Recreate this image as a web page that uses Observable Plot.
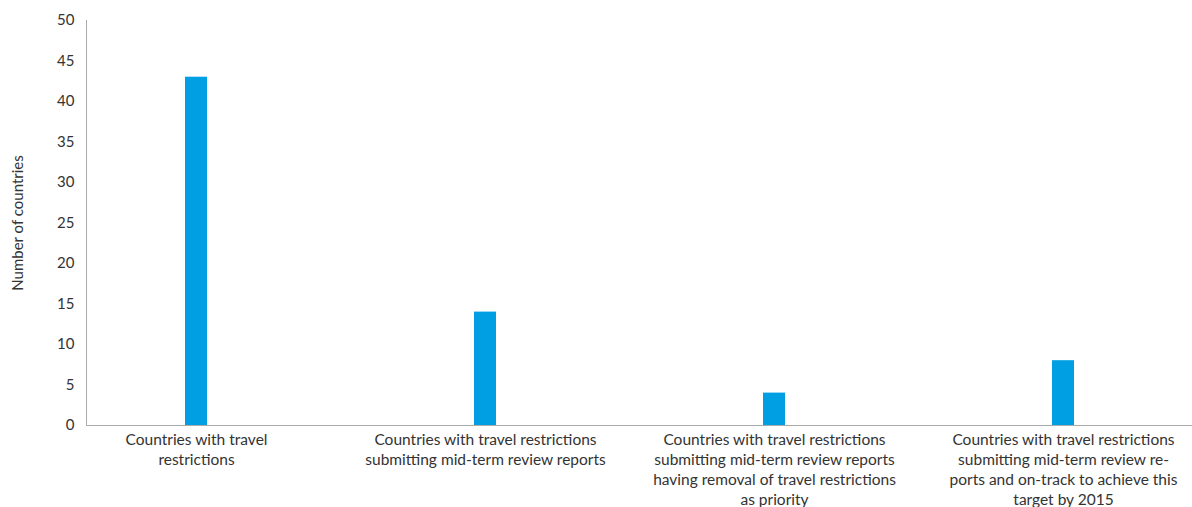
<!DOCTYPE html>
<html>
<head>
<meta charset="utf-8">
<script src="https://cdn.jsdelivr.net/npm/d3@7"></script>
<script src="https://cdn.jsdelivr.net/npm/@observablehq/plot@0.6"></script>
<style>
  html, body { margin: 0; padding: 0; background: #fff; }
  #chart svg { display: block; }
</style>
</head>
<body>
<div id="chart"></div>
<script>
const categories = [
  "Countries with travel\nrestrictions",
  "Countries with travel restrictions\nsubmitting mid-term review reports",
  "Countries with travel restrictions\nsubmitting mid-term review reports\nhaving removal of travel restrictions\nas priority",
  "Countries with travel restrictions\nsubmitting mid-term review re-\nports and on-track to achieve this\ntarget by 2015"
];
const values = [43, 14, 4, 8];
const yTicks = [0, 5, 10, 15, 20, 25, 30, 35, 40, 45, 50];

const data = categories.map((c, i) => ({category: c, value: values[i]}));

const chart = Plot.plot({
  width: 1192,
  height: 507,
  marginLeft: 86,
  marginRight: 0,
  marginTop: 20,
  marginBottom: 82,
  style: {fontFamily: "Lato, 'Open Sans', sans-serif", fontSize: "15px", color: "#333", background: "#fff"},
  x: {domain: categories, range: [51.5, 1207.5], paddingInner: 0.924, paddingOuter: 0.462, label: null},
  y: {domain: [0, 50], label: null},
  marks: [
    Plot.barY(data, {x: "category", y: "value", fill: "#009fe3"}),
    Plot.axisY({ticks: yTicks, tickSize: 0, tickPadding: 12, fontSize: 15, label: null}),
    Plot.axisX({tickSize: 0, tickPadding: 5, fontSize: 15.5, lineHeight: 1.3, label: null}),
    Plot.frame({anchor: "left", stroke: "#aaa", strokeOpacity: 1}),
    Plot.frame({anchor: "bottom", stroke: "#aaa", strokeOpacity: 1}),
    Plot.text(["Number of countries"], {frameAnchor: "left", textAnchor: "middle", dx: -68, rotate: -90, fontSize: 15, fill: "#333"})
  ]
});
document.getElementById("chart").appendChild(chart);
</script>
</body>
</html>
